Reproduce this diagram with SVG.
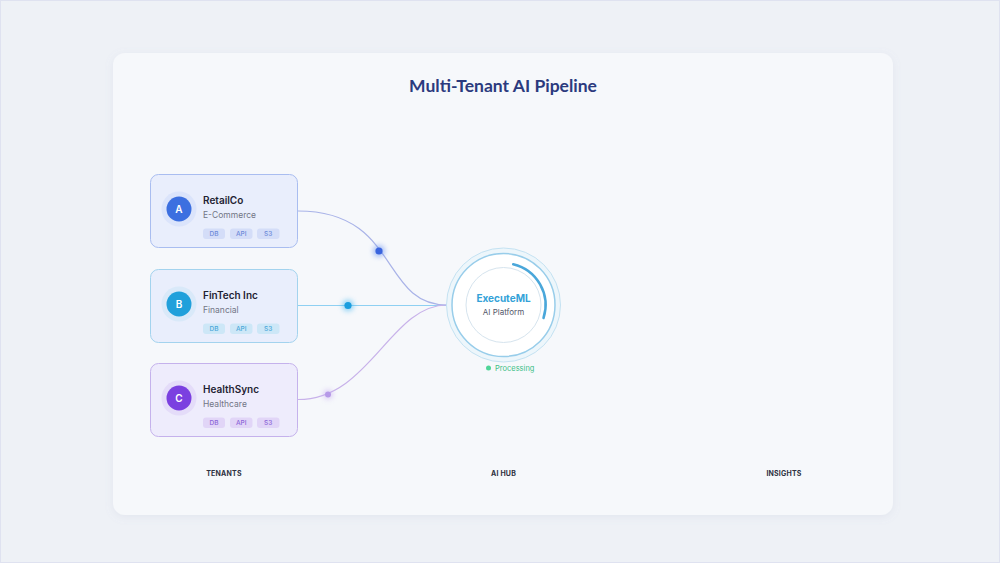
<svg xmlns="http://www.w3.org/2000/svg" width="1000" height="563" viewBox="0 0 1000 563">
<defs>
<style>
.name{font-family:Inter,"Noto Sans",sans-serif;font-weight:600;font-size:10px;fill:#1f2333}
.sub{font-family:Inter,"Noto Sans",sans-serif;font-size:8.5px;fill:#717585}
.tag{font-family:Inter,"Noto Sans",sans-serif;font-size:6.5px;font-weight:500;text-anchor:middle}
.av{font-family:Inter,"Noto Sans",sans-serif;font-size:10px;font-weight:600;fill:#ffffff;text-anchor:middle}
.col{font-family:Inter,"Noto Sans",sans-serif;font-size:7px;font-weight:700;fill:#2d3140;text-anchor:middle;letter-spacing:0.2px}
.link{fill:none;stroke-width:1.2}
</style>
<filter id="shadow" x="-5%" y="-5%" width="110%" height="115%">
<feDropShadow dx="0" dy="2" stdDeviation="4" flood-color="#8a94b8" flood-opacity="0.12"/>
</filter>
<filter id="glow" x="-200%" y="-200%" width="500%" height="500%">
<feGaussianBlur stdDeviation="2.5"/>
</filter>
</defs>
<rect x="0" y="0" width="1000" height="563" fill="#eef1f6"/>
<rect x="0.5" y="0.5" width="999" height="562" fill="none" stroke="#dfe2f0"/>
<rect x="113" y="53" width="780" height="462" rx="12" fill="#f6f8fb" filter="url(#shadow)"/>
<text x="503" y="91.5" text-anchor="middle" font-family="Lato,'Noto Sans',sans-serif" font-weight="700" font-size="17.5" fill="#2b3a7e">Multi-Tenant AI Pipeline</text>

<g id="connectors">
<path class="link" d="M298,211 C400,211 380,305 447,305" stroke="#a9b3e8"/>
<path class="link" d="M298,305.5 L447,305.5" stroke="#8fd0f2"/>
<path class="link" d="M298,399.5 C370,399.5 390,305 447,305" stroke="#c8b2ea"/>
<circle cx="379" cy="251" r="6" fill="#5a86f0" opacity="0.5" filter="url(#glow)"/>
<circle cx="379" cy="251" r="3.6" fill="#3a64de"/>
<circle cx="348" cy="305.5" r="6" fill="#3ab4f0" opacity="0.5" filter="url(#glow)"/>
<circle cx="348" cy="305.5" r="3.6" fill="#1a9edf"/>
<circle cx="328" cy="394.5" r="5" fill="#c4a6f0" opacity="0.5" filter="url(#glow)"/>
<circle cx="328" cy="394.5" r="3" fill="#b699e8"/>
</g>

<g id="node-retailco">
<rect x="150.5" y="174.5" width="147" height="73" rx="8" fill="#e9eefc" stroke="#a9bdf0"/>
<circle cx="179" cy="209" r="17.5" fill="#dbe4fb"/>
<circle cx="179" cy="209" r="12.5" fill="#3c6fe0"/>
<text x="179" y="212.5" class="av">A</text>
<text x="203" y="203.5" class="name">RetailCo</text>
<text x="203" y="217.5" class="sub">E-Commerce</text>
<rect x="203" y="228.5" width="22" height="10.5" rx="3" fill="#d4ddf8"/>
<text x="214" y="236.3" class="tag" fill="#6d8ad8">DB</text>
<rect x="230" y="228.5" width="22.5" height="10.5" rx="3" fill="#d4ddf8"/>
<text x="241.2" y="236.3" class="tag" fill="#6d8ad8">API</text>
<rect x="257" y="228.5" width="22.5" height="10.5" rx="3" fill="#d4ddf8"/>
<text x="268.2" y="236.3" class="tag" fill="#6d8ad8">S3</text>
</g>

<g id="node-fintech">
<rect x="150.5" y="269.5" width="147" height="73" rx="8" fill="#e9eefc" stroke="#a3d3ee"/>
<circle cx="179" cy="304" r="17.5" fill="#d9e9f9"/>
<circle cx="179" cy="304" r="12.5" fill="#20a0db"/>
<text x="179" y="307.5" class="av">B</text>
<text x="203" y="298.5" class="name">FinTech Inc</text>
<text x="203" y="312.5" class="sub">Financial</text>
<rect x="203" y="323.5" width="22" height="10.5" rx="3" fill="#cde7f7"/>
<text x="214" y="331.3" class="tag" fill="#4ba8da">DB</text>
<rect x="230" y="323.5" width="22.5" height="10.5" rx="3" fill="#cde7f7"/>
<text x="241.2" y="331.3" class="tag" fill="#4ba8da">API</text>
<rect x="257" y="323.5" width="22.5" height="10.5" rx="3" fill="#cde7f7"/>
<text x="268.2" y="331.3" class="tag" fill="#4ba8da">S3</text>
</g>

<g id="node-healthsync">
<rect x="150.5" y="363.5" width="147" height="73" rx="8" fill="#eeecfc" stroke="#c5b2ec"/>
<circle cx="179" cy="398" r="17.5" fill="#e4dcf9"/>
<circle cx="179" cy="398" r="12.5" fill="#7b40e0"/>
<text x="179" y="401.5" class="av">C</text>
<text x="203" y="392.5" class="name">HealthSync</text>
<text x="203" y="406.5" class="sub">Healthcare</text>
<rect x="203" y="417.5" width="22" height="10.5" rx="3" fill="#e1d5f7"/>
<text x="214" y="425.3" class="tag" fill="#8c66d8">DB</text>
<rect x="230" y="417.5" width="22.5" height="10.5" rx="3" fill="#e1d5f7"/>
<text x="241.2" y="425.3" class="tag" fill="#8c66d8">API</text>
<rect x="257" y="417.5" width="22.5" height="10.5" rx="3" fill="#e1d5f7"/>
<text x="268.2" y="425.3" class="tag" fill="#8c66d8">S3</text>
</g>

<g id="node-executeml">
<circle cx="503.5" cy="305" r="57" fill="#edf6fb" stroke="#c4e2f2" stroke-width="1"/>
<circle cx="503.5" cy="305" r="51.5" fill="#ffffff" stroke="#98cdea" stroke-width="1.5"/>
<circle cx="503.5" cy="305" r="37.5" fill="#ffffff" stroke="#d6e4ee" stroke-width="1"/>
<path d="M513.2,264.2 A42,42 0 0 1 543.5,318" fill="none" stroke="#4aa7da" stroke-width="2.5" stroke-linecap="round"/>
<text x="503.5" y="301.5" text-anchor="middle" font-family="Inter,'Noto Sans',sans-serif" font-weight="700" font-size="10" fill="#33a2d8">ExecuteML</text>
<text x="503.5" y="315" text-anchor="middle" font-family="Inter,'Noto Sans',sans-serif" font-size="8" fill="#55596a">AI Platform</text>
<circle cx="488.5" cy="368" r="2.5" fill="#4fd597"/>
<text x="495" y="370.8" font-family="Inter,'Noto Sans',sans-serif" font-size="7.5" fill="#40bf86">Processing</text>
</g>

<g id="column-labels">
<text x="224" y="476" class="col">TENANTS</text>
<text x="503.5" y="476" class="col">AI HUB</text>
<text x="784" y="476" class="col">INSIGHTS</text>
</g>
</svg>
